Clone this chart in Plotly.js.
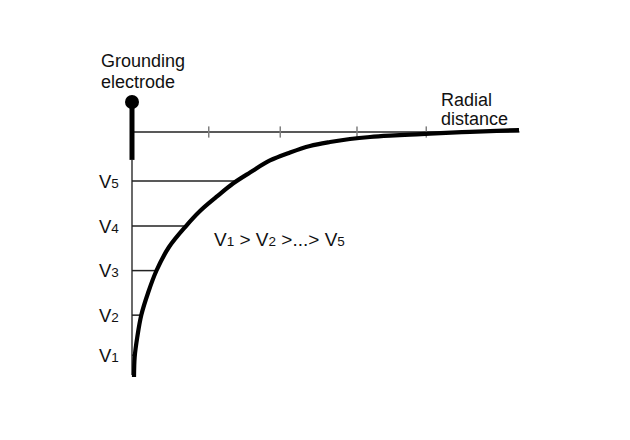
<!DOCTYPE html>
<html>
<head>
<meta charset="utf-8">
<script src="https://cdn.plot.ly/plotly-3.0.1.min.js"></script>
<style>html,body{margin:0;padding:0;background:#fff;}#chart{width:630px;height:440px;}</style>
</head>
<body>
<div id="chart"></div>
<script>
// Potential curve: radial distance vs. potential (diagram units)
const curveDistance = [0.027, 0.036, 0.071, 0.125, 0.215, 0.326, 0.497, 0.725, 0.913, 1.132, 1.356, 1.584, 1.852, 2.121, 2.389, 2.658, 2.926, 3.195, 3.463, 3.732, 4.0, 4.537, 5.195];
const curvePotential = [-5.444, -5.0, -4.556, -4.067, -3.578, -3.089, -2.556, -2.089, -1.756, -1.444, -1.144, -0.9, -0.633, -0.456, -0.311, -0.222, -0.156, -0.111, -0.082, -0.06, -0.038, 0.004, 0.044];

// Equipotential levels
const vLabels = ['1', '2', '3', '4', '5'];
const vLevels = [-4.96, -4.07, -3.08, -2.09, -1.09];
const vEnds = [0.04, 0.125, 0.33, 0.72, 1.38];

// Ticks on the radial distance axis
const tickPositions = [1.03, 1.99, 3.02, 3.95];
const axisEnd = 5.2;
const electrodeTop = 0.667;
const electrodeBottom = -0.62;
const probeBottom = -5.4;

const FONT = '"Liberation Sans", Arial, Helvetica, sans-serif';
const traces = [];

// vertical thin line (y axis)
traces.push({x: [0, 0], y: [electrodeBottom, probeBottom], mode: 'lines',
  line: {color: '#444', width: 1.6}, hoverinfo: 'skip', showlegend: false});
// horizontal axis
traces.push({x: [0, axisEnd], y: [0, 0], mode: 'lines',
  line: {color: '#222', width: 1.6}, hoverinfo: 'skip', showlegend: false});
// level lines
vLevels.forEach((v, i) => {
  traces.push({x: [0, vEnds[i]], y: [v, v], mode: 'lines',
    line: {color: '#222', width: 1.5}, hoverinfo: 'skip', showlegend: false});
});
// tick marks
traces.push({x: tickPositions, y: tickPositions.map(() => 0), mode: 'markers',
  marker: {symbol: 'line-ns-open', size: 8, line: {color: '#222', width: 1.5}},
  hoverinfo: 'skip', showlegend: false});
// curve
traces.push({x: curveDistance, y: curvePotential, mode: 'lines',
  line: {color: '#000', width: 4.2, shape: 'spline', smoothing: 1},
  hoverinfo: 'skip', showlegend: false});
// electrode
traces.push({x: [0, 0], y: [electrodeTop, electrodeBottom], mode: 'lines',
  line: {color: '#000', width: 5}, hoverinfo: 'skip', showlegend: false});
traces.push({x: [0], y: [electrodeTop], mode: 'markers',
  marker: {color: '#000', size: 14}, hoverinfo: 'skip', showlegend: false});

const W = 630, H = 440;
const px = v => v / W, py = v => 1 - v / H;
function txt(t, x, y, xanchor, size) {
  return {text: t, xref: 'paper', yref: 'paper', x: px(x), y: py(y),
    xanchor: xanchor, yanchor: 'middle', showarrow: false,
    font: {family: FONT, size: size, color: '#111'}};
}
const sub = d => 'V<span style="font-size:13.5px">' + d + '</span>';
const annotations = [
  txt('Grounding', 99, 61, 'left', 18),
  txt('electrode', 99, 82, 'left', 18),
  txt('Radial', 439, 100, 'left', 18),
  txt('distance', 439, 119, 'left', 18),
  txt(sub('1') + ' &gt; ' + sub('2') + ' &gt;...&gt; ' + sub('5'), 279, 240, 'center', 19)
];
vLabels.forEach((l, i) => {
  annotations.push({text: sub(l), xref: 'x', yref: 'y', x: -0.15, y: vLevels[i],
    xanchor: 'right', yanchor: 'middle', showarrow: false,
    font: {family: FONT, size: 18.5, color: '#111'}});
});

const layout = {
  width: W, height: H,
  margin: {l: 0, r: 0, t: 0, b: 0},
  paper_bgcolor: '#fff', plot_bgcolor: '#fff',
  xaxis: {range: [-132 / 74.5, (W - 132) / 74.5], visible: false, fixedrange: true},
  yaxis: {range: [-(H - 132) / 45, 132 / 45], visible: false, fixedrange: true},
  annotations: annotations,
  showlegend: false
};
Plotly.newPlot('chart', traces, layout, {displayModeBar: false, staticPlot: true});
</script>
</body>
</html>
